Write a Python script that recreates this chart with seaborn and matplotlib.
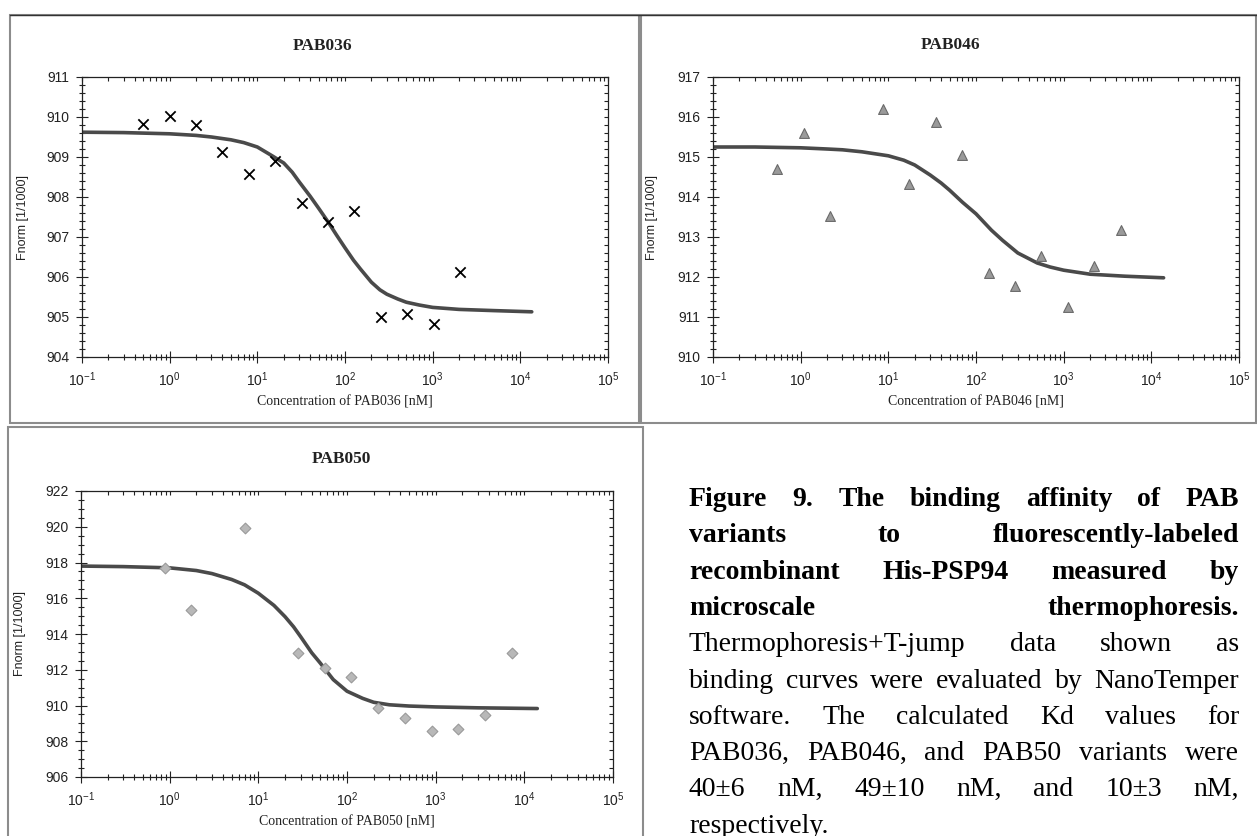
import numpy as np
import pandas as pd
import seaborn as sns
import matplotlib.pyplot as plt
from matplotlib.patches import Rectangle
from matplotlib.ticker import MultipleLocator

# --- data ---
conc_036 = [0.5, 1, 2, 4, 8, 16, 32, 64, 128, 256, 512, 1024, 2048]
fnorm_036 = [909.82, 910.02, 909.81, 909.13, 908.57, 908.90, 907.86, 907.38,
             907.65, 905.00, 905.07, 904.83, 906.12]
fit_x_036 = [0.1, 0.3, 1, 2, 3, 5, 7, 10, 15, 20, 25, 30, 40, 50, 64, 80, 100,
             125, 150, 200, 250, 300, 400, 500, 700, 1000, 2000, 5000, 13500]
fit_y_036 = [909.62, 909.61, 909.58, 909.54, 909.50, 909.43, 909.36, 909.25,
             909.02, 908.85, 908.62, 908.38, 908.02, 907.72, 907.38, 907.05,
             906.73, 906.42, 906.20, 905.87, 905.68, 905.57, 905.45, 905.37,
             905.30, 905.24, 905.19, 905.16, 905.13]

conc_046 = [0.543, 1.09, 2.17, 8.69, 17.4, 34.8, 69.5, 139, 278, 556, 1112, 2225, 4450]
fnorm_046 = [914.71, 915.60, 913.52, 916.20, 914.33, 915.87, 915.04, 912.10,
             911.77, 912.52, 911.25, 912.27, 913.18]
fit_x_046 = [0.1, 0.3, 1, 2, 3, 5, 10, 15, 20, 30, 40, 50, 70, 100, 150, 200,
             300, 500, 700, 1000, 2000, 5000, 13800]
fit_y_046 = [915.25, 915.25, 915.23, 915.20, 915.18, 915.13, 915.03, 914.92,
             914.80, 914.55, 914.35, 914.17, 913.87, 913.58, 913.17, 912.92,
             912.60, 912.35, 912.25, 912.17, 912.07, 912.02, 911.98]

conc_050 = [0.88, 1.76, 7.0, 28.2, 56, 111, 223, 453, 910, 1800, 3640, 7340]
fnorm_050 = [917.68, 915.35, 919.93, 912.95, 912.10, 911.57, 909.85, 909.29,
             908.60, 908.69, 909.46, 912.93]
fit_x_050 = [0.1, 0.3, 1, 2, 3, 5, 7, 10, 15, 20, 25, 30, 40, 50, 70, 100, 150,
             200, 300, 500, 1000, 3000, 14000]
fit_y_050 = [917.80, 917.77, 917.70, 917.55, 917.38, 917.05, 916.75, 916.28,
             915.60, 914.97, 914.40, 913.85, 912.95, 912.37, 911.45, 910.80,
             910.40, 910.18, 910.04, 909.97, 909.92, 909.87, 909.83]

titles = ['PAB036', 'PAB046', 'PAB050']
y_limits = [(904, 911), (910, 917), (906, 922)]
y_major = [1, 1, 2]
y_minor = [0.2, 0.2, 0.5]

caption_lines = [
    "Figure 9. The binding affinity of PAB",
    "variants to fluorescently-labeled",
    "recombinant His-PSP94 measured by",
    "microscale thermophoresis.",
    "Thermophoresis+T-jump data shown as",
    "binding curves were evaluated by NanoTemper",
    "software. The calculated Kd values for",
    "PAB036, PAB046, and PAB50 variants were",
    "40\u00b16 nM, 49\u00b110 nM, and 10\u00b13 nM,",
    "respectively.",
]
caption_bold = [True, True, True, True, False, False, False, False, False, False]

sns.set_style('white')
plt.rcParams['font.family'] = ['Liberation Sans', 'DejaVu Sans']
plt.rcParams['mathtext.default'] = 'regular'

W, H = 1257, 836
fig = plt.figure(figsize=(W / 100, H / 100), dpi=100)


def px_axes(left, right, top, bottom):
    return fig.add_axes([left / W, 1 - bottom / H, (right - left) / W, (bottom - top) / H])


def frame(x0, y0, x1, y1):
    fig.add_artist(Rectangle((x0 / W, 1 - y1 / H), (x1 - x0) / W, (y1 - y0) / H,
                             transform=fig.transFigure, fill=False,
                             edgecolor='#8c8c8c', linewidth=1.5))


# panel frames
frame(10, 15, 639, 423)
frame(641, 15, 1256, 423)
frame(8, 427, 643, 840)
fig.add_artist(plt.Line2D([10 / W, 1], [1 - 15 / H, 1 - 15 / H], color='#333333', lw=1.0))

ax1 = px_axes(82, 608, 77, 357)
ax2 = px_axes(713, 1239, 77, 357)
ax3 = px_axes(81, 613, 491, 777)

panels = [
    (ax1, conc_036, fnorm_036, fit_x_036, fit_y_036),
    (ax2, conc_046, fnorm_046, fit_x_046, fit_y_046),
    (ax3, conc_050, fnorm_050, fit_x_050, fit_y_050),
]

for i, (ax, cx, cy, fx, fy) in enumerate(panels):
    ax.set_xscale('log')
    sns.lineplot(x=fx, y=fy, ax=ax, color='#4a4a4a', linewidth=2.6, sort=True)
    if i == 0:
        sns.scatterplot(x=cx, y=cy, ax=ax, marker='x', s=55, color='black',
                        linewidth=1.3, zorder=3)
    elif i == 1:
        sns.scatterplot(x=cx, y=cy, ax=ax, marker='^', s=50, color='#9a9a9a',
                        edgecolor='#6a6a6a', linewidth=0.8, zorder=3)
    else:
        sns.scatterplot(x=cx, y=cy, ax=ax, marker='D', s=30, color='#b8b8b8',
                        edgecolor='#9a9a9a', linewidth=0.8, zorder=3)

    ax.set_xlim(0.1, 1e5)
    ax.set_ylim(*y_limits[i])
    ax.yaxis.set_major_locator(MultipleLocator(y_major[i]))
    ax.yaxis.set_minor_locator(MultipleLocator(y_minor[i]))

    for sp in ax.spines.values():
        sp.set_color('#222222')
        sp.set_linewidth(0.9)

    ax.tick_params(which='major', direction='inout', length=8, width=0.8,
                   color='#222222', labelsize=10, labelcolor='#222222')
    ax.tick_params(which='minor', direction='inout', length=4.5, width=0.8,
                   color='#222222')
    ax.tick_params(axis='x', which='major', pad=6)
    ax.tick_params(axis='y', which='major', pad=5)
    ax.tick_params(which='both', bottom=True, left=True, top=False, right=False)

    # inward ticks on the top and right edges
    top = ax.secondary_xaxis('top', functions=(lambda v: v, lambda v: v))
    top.tick_params(which='both', direction='in', length=3, width=0.8,
                    color='#222222', labeltop=False)
    right = ax.secondary_yaxis('right', functions=(lambda v: v, lambda v: v))
    right.yaxis.set_major_locator(MultipleLocator(y_major[i]))
    right.yaxis.set_minor_locator(MultipleLocator(y_minor[i]))
    right.tick_params(which='both', direction='in', length=3, width=0.8,
                      color='#222222', labelright=False)
    for sec in (top, right):
        for sp in sec.spines.values():
            sp.set_visible(False)

    ax.set_xlabel(f'Concentration of {titles[i]} [nM]', family='Liberation Serif',
                  fontsize=10, color='#222222')
    ax.set_ylabel('Fnorm [1/1000]', fontsize=9, color='#222222')
    ax.xaxis.set_label_coords(0.5, -0.135)

ax1.yaxis.set_label_coords(-0.10, 0.5)
ax2.yaxis.set_label_coords(-0.105, 0.5)
ax3.yaxis.set_label_coords(-0.103, 0.5)

# panel titles
for (tx, ty), name in zip([(323, 46), (951, 45), (341, 459)], titles):
    fig.text(tx / W, 1 - ty / H, name, family='Liberation Serif', fontweight='bold',
             fontsize=12.5, ha='center', va='center', color='#222222')

# justified caption
renderer = fig.canvas.get_renderer()
x_left, x_right = 689, 1239
base0, step = 506, 36.3
for k, (line, bold) in enumerate(zip(caption_lines, caption_bold)):
    words = line.split(' ')
    y = 1 - (base0 + k * step) / H
    texts = [fig.text(0, y, w, family='Liberation Serif', fontsize=20,
                      fontweight='bold' if bold else 'normal', va='baseline',
                      color='black') for w in words]
    widths = [t.get_window_extent(renderer).width for t in texts]
    last = k == len(caption_lines) - 1
    if len(words) > 1 and not last:
        gap = (x_right - x_left - sum(widths)) / (len(words) - 1)
    else:
        gap = 6
    x = x_left
    for t, w in zip(texts, widths):
        t.set_x(x / W)
        x += w + gap

fig.savefig('out.png', dpi=100)
